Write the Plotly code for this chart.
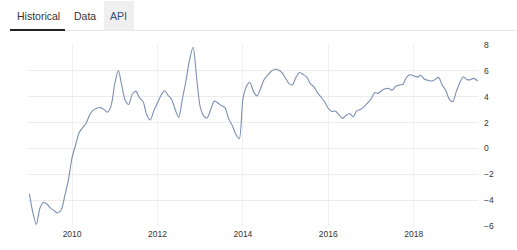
import plotly.graph_objects as go
import pandas as pd

W, H = 517, 250
ML, MR, MT, MB = 28, 39, 44, 23

start_month = "2009-01-01"
values = [
    -3.5, -5.0, -5.85, -4.6, -4.15, -4.3, -4.6, -4.8, -4.97, -4.7, -3.6, -2.4,
    -0.7, 0.3, 1.2, 1.6, 1.95, 2.6, 2.95, 3.1, 3.15, 3.0, 2.8, 3.3,
    5.0, 6.0, 4.9, 3.7, 3.4, 4.2, 4.4, 3.9, 3.6, 2.6, 2.2, 2.9,
    3.5, 4.1, 4.45, 4.1, 3.8, 3.0, 2.4, 3.8, 5.2, 6.8, 7.8, 5.5,
    3.2, 2.5, 2.35, 3.0, 3.65, 3.5, 3.3, 3.15, 2.3, 1.8, 1.1, 0.75,
    3.8, 4.8, 5.1, 4.4, 4.05, 4.6, 5.3, 5.65, 5.95, 6.1, 6.05, 5.85,
    5.4, 5.0, 4.9, 5.5, 5.85, 5.7, 5.5, 5.0, 4.75, 4.3, 3.95, 3.6,
    3.1, 2.85, 2.88, 2.6, 2.32, 2.55, 2.7, 2.45, 2.9, 3.0, 3.2, 3.5,
    3.8, 4.3, 4.25, 4.45, 4.6, 4.62, 4.5, 4.8, 4.9, 4.95, 5.5, 5.68,
    5.6, 5.5, 5.64, 5.35, 5.25, 5.2, 5.3, 5.48, 4.9, 4.5, 3.8, 3.6,
    4.4, 5.1, 5.53, 5.3, 5.3, 5.4, 5.2,
]
dates = pd.date_range(start_month, periods=len(values), freq="MS")
y_ticks = [-6, -4, -2, 0, 2, 4, 6, 8]
x_tick_labels = ["2010", "2012", "2014", "2016", "2018"]
tabs = ["Historical", "Data", "API"]

FONT = "Liberation Sans, Arial, sans-serif"

fig = go.Figure()
fig.add_trace(go.Scatter(
    x=dates, y=values, mode="lines",
    line=dict(color="#7a8fb2", width=1.1, shape="spline", smoothing=0.8),
    hoverinfo="skip", showlegend=False,
))

pw = W - ML - MR
ph = H - MT - MB
def px(x):
    return (x - ML) / pw
def py(y):
    return (H - MB - y) / ph

shapes = [
    dict(type="rect", xref="paper", yref="paper", x0=px(104), x1=px(134), y0=py(30), y1=py(1),
         fillcolor="#efefef", line=dict(width=0), layer="below"),
    dict(type="line", xref="paper", yref="paper", x0=px(10), x1=px(517), y0=py(30.5), y1=py(30.5),
         line=dict(color="#e8e8e8", width=1)),
    dict(type="line", xref="paper", yref="paper", x0=px(10), x1=px(65), y0=py(30), y1=py(30),
         line=dict(color="#222222", width=2)),
]
tab_x = [38, 85, 118.5]
tab_colors = ["#333333", "#333333", "#2f4f7a"]
annotations = []
for t, xx, c in zip(tabs, tab_x, tab_colors):
    annotations.append(dict(text=t, xref="paper", yref="paper", x=px(xx), y=py(16),
                            xanchor="center", yanchor="middle", showarrow=False,
                            font=dict(family=FONT, size=10.5, color=c)))

fig.update_layout(
    width=W, height=H,
    margin=dict(l=ML, r=MR, t=MT, b=MB, pad=0),
    paper_bgcolor="white", plot_bgcolor="white",
    shapes=shapes, annotations=annotations,
    xaxis=dict(
        type="date",
        range=["2008-12-20", "2019-07-05"],
        tickvals=[f"{y}-01-01" for y in x_tick_labels],
        ticktext=x_tick_labels,
        showgrid=True, gridcolor="#f0f0f0", gridwidth=1,
        zeroline=False, showline=False, ticks="",
        tickfont=dict(family=FONT, size=8.5, color="#333333"),
    ),
    yaxis=dict(
        side="right",
        range=[-6.05, 8.05],
        tickvals=y_ticks,
        showgrid=True, gridcolor="#ececec", gridwidth=1,
        zeroline=False, showline=False, ticks="",
        ticklabelstandoff=5,
        tickfont=dict(family=FONT, size=8.5, color="#333333"),
    ),
)

fig.write_html("out.html")
